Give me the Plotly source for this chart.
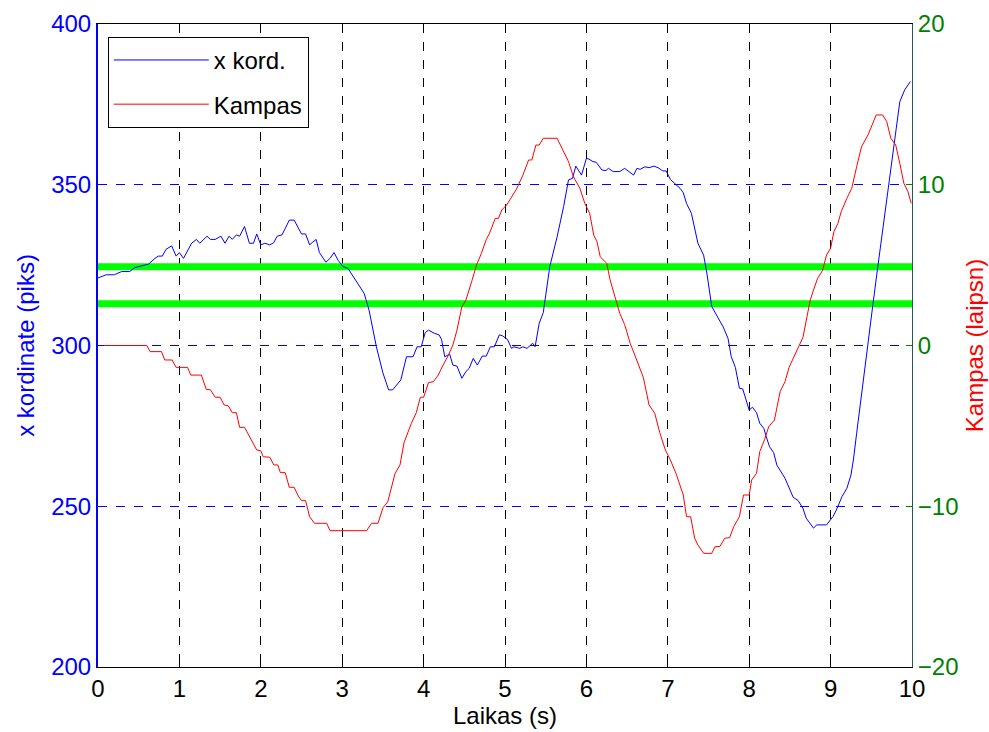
import plotly.graph_objects as go

# ---- data ----
t_x = [0, 0.1, 0.2, 0.29, 0.39, 0.45, 0.54, 0.62, 0.7, 0.74, 0.79, 0.835, 0.905, 0.96, 1.0, 1.05,
       1.15, 1.21, 1.25, 1.34, 1.38, 1.44, 1.51, 1.56, 1.61, 1.65, 1.70, 1.74, 1.80, 1.86, 1.91, 1.95,
       2.0, 2.05, 2.11, 2.16, 2.2, 2.26, 2.30, 2.35, 2.41, 2.45, 2.50, 2.55, 2.60, 2.63, 2.68, 2.72,
       2.80, 2.85, 2.90, 2.95, 3.01, 3.07, 3.16, 3.27, 3.33, 3.42, 3.5, 3.57, 3.62, 3.72, 3.79, 3.87,
       3.92, 3.97, 4.02, 4.06, 4.13, 4.19, 4.22, 4.26, 4.32, 4.36, 4.41, 4.47, 4.52, 4.56, 4.61, 4.66,
       4.72, 4.77, 4.82, 4.87, 4.93, 4.97, 5.03, 5.08, 5.11, 5.18, 5.22, 5.27, 5.34, 5.37, 5.42, 5.47,
       5.55, 5.64, 5.72, 5.78, 5.83, 5.87, 5.94, 6.0, 6.03, 6.08, 6.12, 6.19, 6.24, 6.27, 6.33, 6.41,
       6.47, 6.51, 6.58, 6.62, 6.66, 6.72, 6.77, 6.83, 6.88, 6.94, 6.98, 7.03, 7.09, 7.15, 7.19, 7.23,
       7.29, 7.33, 7.37, 7.44, 7.48, 7.54, 7.64, 7.68, 7.74, 7.78, 7.83, 7.88, 7.92, 7.96, 8.0, 8.04,
       8.09, 8.13, 8.18, 8.21, 8.25, 8.30, 8.34, 8.44, 8.48, 8.54, 8.60, 8.66, 8.70, 8.79, 8.83, 8.95,
       9.03, 9.07, 9.14, 9.20, 9.25, 9.28, 9.32, 9.36, 9.41, 9.45, 9.49, 9.52, 9.58, 9.65, 9.71, 9.75,
       9.81, 9.85, 9.91, 9.98]
x_kord = [321, 322, 322, 323, 323, 324.2, 324.8, 325.3, 327.1, 327.8, 327.8, 329.9, 331, 327.8, 328.9, 327.1,
          331.8, 333, 331.8, 334, 333, 333, 334, 331.8, 334, 333, 334.4, 334, 337, 331.8, 331.8, 334.7,
          331.3, 331.8, 331.3, 332, 334, 334.4, 336.4, 339, 339, 337, 334.7, 334.7, 331.3, 332, 333, 328.9,
          325.9, 327.1, 328.9, 326.5, 324.5, 324, 320.4, 316.2, 311, 299.6, 291.5, 286.2, 286.2, 289.3, 296.5, 296.5,
          299.6, 299.6, 304, 304.8, 303.8, 303.3, 301.9, 296.5, 297.3, 293.9, 293.6, 289.8, 291.9, 292.9, 296, 293.9,
          296.7, 296.7, 299.6, 299.6, 303.3, 303, 301.9, 299.1, 299.6, 299.1, 299.6, 299.1, 300.7, 299.6, 306.9, 310.2,
          324.5, 333.8, 343.2, 351.5, 352, 355.8, 353, 358.2, 358, 357.2, 357, 354.6, 354.4, 355.1, 354.1, 354.1,
          355.1, 354.4, 353, 355.1, 354.8, 355.6, 355.3, 355.8, 355.3, 354.3, 354.3, 351.7, 350.4, 348.9, 347.5, 344.2,
          341.1, 336.4, 331.8, 328.1, 322.5, 312.1, 307.4, 305.8, 302.2, 296.5, 293.2, 286.7, 286.5, 283.3, 279.9, 280.8,
          279.1, 275.8, 274.2, 271.6, 268.5, 266.7, 262.8, 258.7, 256.1, 252.8, 251.8, 249.4, 246.3, 243.2, 244.2, 244.2,
          246.8, 248.8, 253, 255.6, 259.7, 264.4, 272.7, 281, 291.3, 299.6, 306.9, 312.8, 324.5, 338, 349.4, 356.7,
          368.1, 375.8, 379.5, 382.1]

t_k = [0, 0.6, 0.64, 0.78, 0.82, 0.91, 0.96, 1.1, 1.14, 1.27, 1.33, 1.38, 1.44, 1.50, 1.55, 1.60, 1.65, 1.70,
       1.74, 1.80, 1.95, 2.0, 2.03, 2.11, 2.16, 2.21, 2.24, 2.30, 2.35, 2.41, 2.46, 2.50, 2.55, 2.60, 2.66, 2.81,
       2.85, 3.30, 3.36, 3.44, 3.50, 3.56, 3.65, 3.71, 3.76, 3.85, 3.91, 3.96, 4.0, 4.06, 4.12, 4.18, 4.24, 4.30,
       4.36, 4.41, 4.47, 4.52, 4.59, 4.65, 4.71, 4.77, 4.81, 4.88, 4.92, 4.96, 5.02, 5.08, 5.14, 5.22, 5.29, 5.33,
       5.38, 5.42, 5.47, 5.64, 5.70, 5.78, 5.84, 5.92, 5.98, 6.04, 6.09, 6.13, 6.17, 6.25, 6.29, 6.33, 6.41, 6.47,
       6.54, 6.58, 6.64, 6.70, 6.77, 6.84, 6.90, 6.97, 7.03, 7.10, 7.19, 7.23, 7.28, 7.33, 7.37, 7.44, 7.54, 7.58,
       7.64, 7.70, 7.76, 7.81, 7.88, 7.93, 8.0, 8.03, 8.09, 8.13, 8.19, 8.24, 8.31, 8.38, 8.44, 8.49, 8.56, 8.61,
       8.66, 8.71, 8.75, 8.79, 8.84, 8.90, 8.95, 9.0, 9.04, 9.09, 9.13, 9.20, 9.26, 9.32, 9.38, 9.46, 9.56, 9.64,
       9.69, 9.74, 9.80, 9.85, 9.90, 9.95, 9.99]
kampas = [0, 0, -0.38, -0.38, -0.9, -0.9, -1.36, -1.36, -1.84, -1.84, -2.73, -2.75, -3.22, -3.22, -3.7, -3.75, -4.18, -4.18,
          -5.09, -5.09, -6.5, -6.55, -6.92, -6.95, -7.43, -7.43, -7.91, -7.91, -8.82, -8.82, -9.36, -9.65, -9.65, -10.65, -11.06, -11.06,
          -11.52, -11.52, -11.06, -11.06, -10.1, -9.72, -7.95, -7.43, -6.04, -4.84, -4.18, -3.22, -3.22, -2.31, -2.25, -1.84, -1.21, -0.65,
          0.03, 0.96, 2.4, 2.83, 3.97, 5.0, 5.73, 6.6, 6.98, 7.91, 7.91, 8.43, 8.74, 9.26, 9.72, 10.6, 11.54, 11.54,
          12.47, 12.47, 12.89, 12.89, 12.27, 11.44, 10.5, 9.78, 8.85, 8.22, 6.87, 6.46, 5.52, 5.11, 4.1, 3.4, 2.0, 1.3,
          0.1, -0.4, -1.2, -2.0, -3.7, -4.22, -5.4, -6.5, -7.1, -7.95, -9.3, -10.65, -10.65, -11.99, -12.41, -12.93, -12.93, -12.52,
          -12.5, -11.99, -11.95, -11.27, -10.65, -9.3, -9.3, -8.37, -7.95, -6.6, -5.84, -5.05, -4.64, -2.87, -2.25, -1.36, -0.59, -0.07,
          0.5, 1.79, 2.83, 3.45, 4.18, 4.65, 5.63, 6.05, 7.08, 7.6, 8.32, 9.16, 9.78, 11.12, 12.37, 13.1, 14.34, 14.34,
          13.92, 12.89, 12.47, 11.33, 10.09, 9.57, 8.85]

threshold_levels = [324.5, 313.0]
x_range = [0, 10]
x_ticks = list(range(0, 11))
y_ticks = [200, 250, 300, 350, 400]
y2_ticks = [-20, -10, 0, 10, 20]

FONT = "Liberation Sans, Arial, sans-serif"
FS = 24
BLUE = "#0000FF"
RED = "#FF0000"
GREEN_TXT = "#008000"

fig = go.Figure()

for lvl in threshold_levels:
    fig.add_trace(go.Scatter(x=x_range, y=[lvl, lvl], mode="lines",
                             line=dict(color="#00FF00", width=7),
                             showlegend=False, hoverinfo="skip", yaxis="y"))

fig.add_trace(go.Scatter(x=t_x, y=x_kord, mode="lines", name="x kord.", legendgroup="a",
                         line=dict(color=BLUE, width=1), yaxis="y"))
fig.add_trace(go.Scatter(x=t_k, y=kampas, mode="lines", name="Kampas", legendgroup="b",
                         line=dict(color=RED, width=1), yaxis="y2"))

fig.update_layout(
    width=989, height=732,
    margin=dict(l=98, r=77, t=24, b=65, autoexpand=False),
    paper_bgcolor="white", plot_bgcolor="white",
    font=dict(family=FONT, size=FS, color="black"),
    showlegend=True,
    legend=dict(x=0.012, y=0.98, xanchor="left", yanchor="top",
                bgcolor="white", bordercolor="black", borderwidth=1,
                font=dict(size=FS, color="black"), tracegroupgap=10,
                itemwidth=95),
    xaxis=dict(range=x_range, tickvals=x_ticks, ticks="inside", ticklen=6,
               tickcolor="black", showline=True, linecolor="black", linewidth=1,
               mirror="ticks", showgrid=True, gridcolor="black", griddash="dash",
               gridwidth=1, zeroline=False,
               tickfont=dict(size=FS, color="black"),
               title=dict(text="Laikas (s)", font=dict(size=FS, color="black"), standoff=4)),
    yaxis=dict(range=[200, 400], tickvals=y_ticks, ticks="inside", ticklen=6,
               tickcolor=BLUE, showline=True, linecolor=BLUE, linewidth=2,
               showgrid=True, gridcolor=BLUE, griddash="dash", gridwidth=1,
               zeroline=False, tickfont=dict(size=FS, color=BLUE),
               title=dict(text="x kordinate (piks)", font=dict(size=FS, color=BLUE), standoff=10)),
    yaxis2=dict(range=[-20, 20], tickvals=y2_ticks, overlaying="y", side="right",
                ticks="inside", ticklen=6, tickcolor=GREEN_TXT, showline=True,
                linecolor="#1e5a5a", linewidth=1, showgrid=False, zeroline=False,
                tickfont=dict(size=FS, color=GREEN_TXT),
                title=dict(text="Kampas (laipsn)", font=dict(size=FS, color=RED), standoff=8)),
)

fig.write_html("out.html")
